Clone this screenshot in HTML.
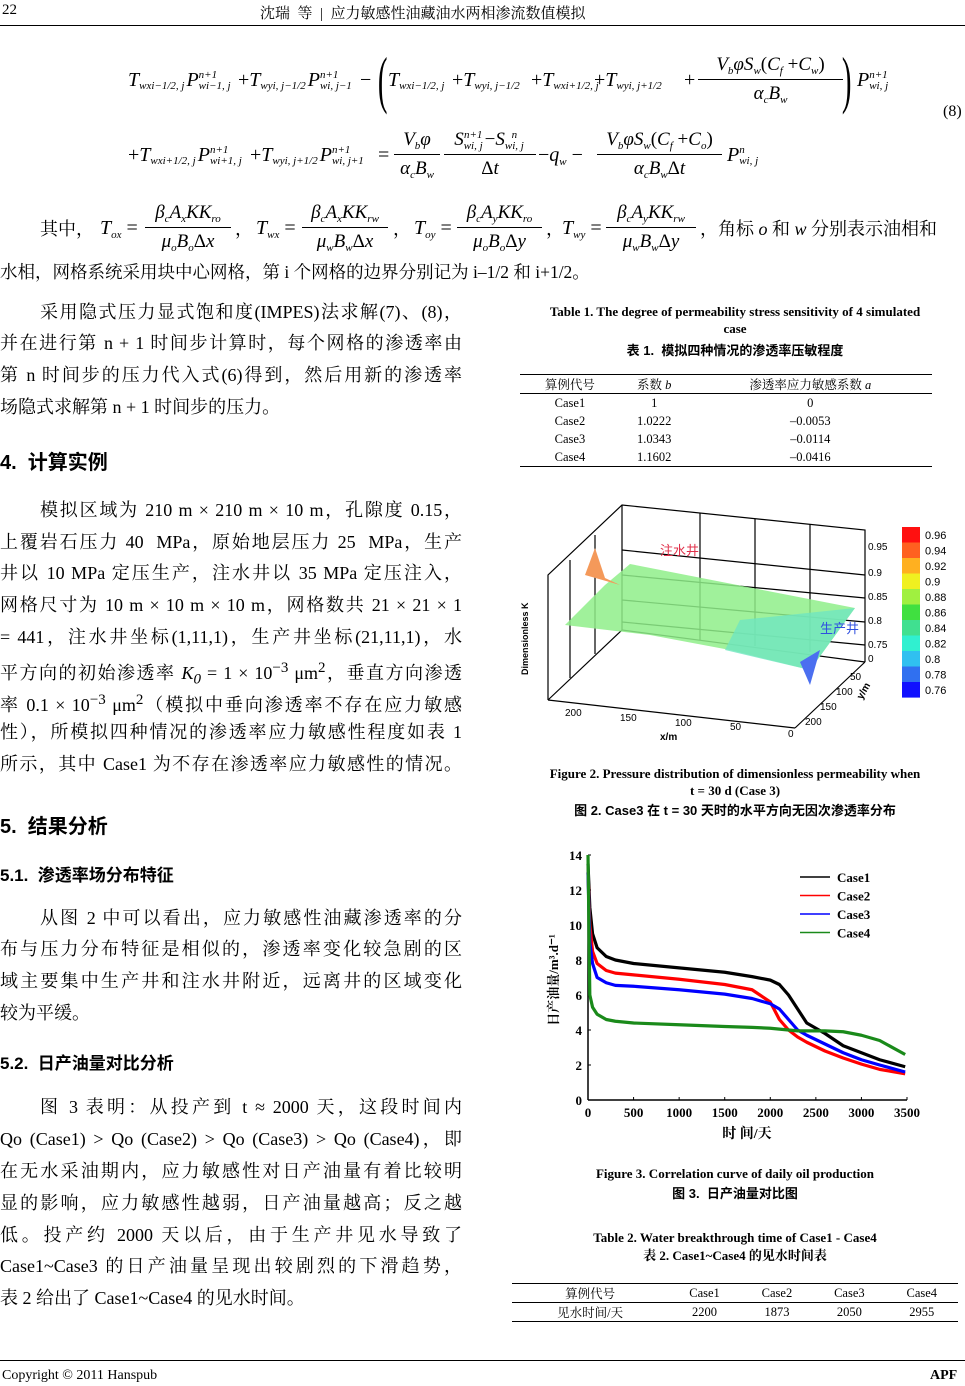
<!DOCTYPE html>
<html><head><meta charset="utf-8">
<style>
body{margin:0;width:965px;height:1386px;position:relative;background:#fff;font-family:"Liberation Serif","Noto Serif CJK SC",serif;color:#000;overflow:hidden}
.a{position:absolute;white-space:nowrap}
.L{position:absolute;left:0;width:462px;font-size:18px;line-height:22px;height:22px;text-align:justify;text-align-last:justify;overflow:visible}
.L.f{left:40px;width:422px}
.L.e{text-align-last:left}
.h{font-family:"Liberation Sans","Noto Sans CJK SC",sans-serif;font-weight:bold}
i{font-style:italic}
.cap{position:absolute;font-size:13px;font-weight:bold;text-align:center;line-height:17px}
table{border-collapse:collapse;font-size:12.5px}
td{text-align:center;padding:0;height:18px}
.t{position:absolute;line-height:30px;height:30px;font-style:italic;font-size:20px;white-space:nowrap}
.ss{display:inline-flex;flex-direction:column;font-size:11px;line-height:11px;margin-right:2px;vertical-align:middle}
.fr{position:absolute;font-style:italic;font-size:19px;white-space:nowrap;text-align:center}
.fr .n{line-height:24px;height:24px}
.fr .b{height:1px;background:#000;margin:2px 0}
.fr .d{line-height:24px;height:24px}
.fr sub,.t sub{font-size:11px;vertical-align:-4px;line-height:0}
.np{font-style:normal}
</style></head><body>
<div class="a" style="left:2px;top:2px;font-size:15px">22</div>
<div class="a" style="left:260px;top:2px;font-size:15px">沈瑞&nbsp; 等&nbsp; |&nbsp; 应力敏感性油藏油水两相渗流数值模拟</div>
<div class="a" style="left:0;top:25px;width:965px;height:1px;background:#000"></div>

<div>
<div class="t" style="left:128px;top:65px">T<span class="ss"><span>&nbsp;</span><span>wxi−1/2, j</span></span>P<span class="ss"><span>n+1</span><span>wi−1, j</span></span></div>
<div class="t" style="left:238px;top:65px"><span class="np">+</span>T<span class="ss"><span>&nbsp;</span><span>wyi, j−1/2</span></span>P<span class="ss"><span>n+1</span><span>wi, j−1</span></span></div>
<div class="t" style="left:360px;top:65px"><span class="np">−</span></div>
<div class="a" style="left:372px;top:40px;font-size:64px;line-height:80px;transform:scaleX(0.45)">(</div>
<div class="t" style="left:388px;top:65px">T<span class="ss"><span>&nbsp;</span><span>wxi−1/2, j</span></span></div>
<div class="t" style="left:452px;top:65px"><span class="np">+</span>T<span class="ss"><span>&nbsp;</span><span>wyi, j−1/2</span></span></div>
<div class="t" style="left:531px;top:65px"><span class="np">+</span>T<span class="ss"><span>&nbsp;</span><span>wxi+1/2, j</span></span></div>
<div class="t" style="left:594px;top:65px"><span class="np">+</span>T<span class="ss"><span>&nbsp;</span><span>wyi, j+1/2</span></span></div>
<div class="t" style="left:684px;top:65px"><span class="np">+</span></div>
<div class="fr" style="left:698px;top:53px;width:145px"><div class="n">V<sub>b</sub>φS<sub>w</sub><span class="np">(</span>C<sub>f</sub><span class="np">&nbsp;+</span>C<sub>w</sub><span class="np">)</span></div><div class="b"></div><div class="d">α<sub>c</sub>B<sub>w</sub></div></div>
<div class="a" style="left:836px;top:40px;font-size:64px;line-height:80px;transform:scaleX(0.45)">)</div>
<div class="t" style="left:857px;top:65px">P<span class="ss"><span>n+1</span><span>wi, j</span></span></div>

<div class="t" style="left:128px;top:140px"><span class="np">+</span>T<span class="ss"><span>&nbsp;</span><span>wxi+1/2, j</span></span>P<span class="ss"><span>n+1</span><span>wi+1, j</span></span></div>
<div class="t" style="left:250px;top:140px"><span class="np">+</span>T<span class="ss"><span>&nbsp;</span><span>wyi, j+1/2</span></span>P<span class="ss"><span>n+1</span><span>wi, j+1</span></span></div>
<div class="t" style="left:378px;top:140px"><span class="np">=</span></div>
<div class="fr" style="left:394px;top:128px;width:46px"><div class="n">V<sub>b</sub>φ</div><div class="b"></div><div class="d">α<sub>c</sub>B<sub>w</sub></div></div>
<div class="fr" style="left:444px;top:128px;width:92px"><div class="n">S<span class="ss"><span>n+1</span><span>wi, j</span></span><span class="np">−</span>S<span class="ss"><span>n</span><span>wi, j</span></span></div><div class="b"></div><div class="d"><span class="np">Δ</span>t</div></div>
<div class="t" style="left:538px;top:140px"><span class="np">−</span>q<sub>w</sub>&nbsp;<span class="np">−</span></div>
<div class="fr" style="left:597px;top:128px;width:125px"><div class="n">V<sub>b</sub>φS<sub>w</sub><span class="np">(</span>C<sub>f</sub><span class="np">&nbsp;+</span>C<sub>o</sub><span class="np">)</span></div><div class="b"></div><div class="d">α<sub>c</sub>B<sub>w</sub><span class="np">Δ</span>t</div></div>
<div class="t" style="left:727px;top:140px">P<span class="ss"><span>n</span><span>wi, j</span></span></div>
</div>
<div class="a" style="left:943px;top:103px;font-size:16px">(8)</div>

<div>
<div class="a" style="left:40px;top:215px;font-size:18px">其中，</div>
<div class="t" style="left:100px;top:213px">T<sub>ox</sub> <span class="np">=</span></div>
<div class="fr" style="left:145px;top:201px;width:86px"><div class="n">β<sub>c</sub>A<sub>x</sub>KK<sub>ro</sub></div><div class="b"></div><div class="d">μ<sub>o</sub>B<sub>o</sub><span class="np">Δ</span>x</div></div>
<div class="a" style="left:235px;top:215px;font-size:18px">，</div>
<div class="t" style="left:256px;top:213px">T<sub>wx</sub> <span class="np">=</span></div>
<div class="fr" style="left:302px;top:201px;width:86px"><div class="n">β<sub>c</sub>A<sub>x</sub>KK<sub>rw</sub></div><div class="b"></div><div class="d">μ<sub>w</sub>B<sub>w</sub><span class="np">Δ</span>x</div></div>
<div class="a" style="left:393px;top:215px;font-size:18px">，</div>
<div class="t" style="left:414px;top:213px">T<sub>oy</sub> <span class="np">=</span></div>
<div class="fr" style="left:457px;top:201px;width:85px"><div class="n">β<sub>c</sub>A<sub>y</sub>KK<sub>ro</sub></div><div class="b"></div><div class="d">μ<sub>o</sub>B<sub>o</sub><span class="np">Δ</span>y</div></div>
<div class="a" style="left:546px;top:215px;font-size:18px">，</div>
<div class="t" style="left:562px;top:213px">T<sub>wy</sub> <span class="np">=</span></div>
<div class="fr" style="left:606px;top:201px;width:90px"><div class="n">β<sub>c</sub>A<sub>y</sub>KK<sub>rw</sub></div><div class="b"></div><div class="d">μ<sub>w</sub>B<sub>w</sub><span class="np">Δ</span>y</div></div>
<div class="a" style="left:700px;top:215px;font-size:18px">，角标 <i>o</i> 和 <i>w</i> 分别表示油相和</div>
</div>
<div class="a" style="left:0;top:259px;font-size:17.5px">水相，网格系统采用块中心网格，第 i 个网格的边界分别记为 i–1/2 和 i+1/2。</div>

<div>
<div class="L f" style="top:301px">采用隐式压力显式饱和度(IMPES)法求解(7)、(8)，</div>
<div class="L" style="top:332px">并在进行第 n + 1 时间步计算时，每个网格的渗透率由</div>
<div class="L" style="top:364px">第 n 时间步的压力代入式(6)得到，然后用新的渗透率</div>
<div class="L e" style="top:396px">场隐式求解第 n + 1 时间步的压力。</div>
</div>

<div class="a h" style="left:0;top:446px;font-size:20px">4.&nbsp; 计算实例</div>
<div>
<div class="L f" style="top:499px">模拟区域为 210 m × 210 m × 10 m，孔隙度 0.15，</div>
<div class="L" style="top:531px">上覆岩石压力 40&nbsp; MPa，原始地层压力 25&nbsp; MPa，生产</div>
<div class="L" style="top:562px">井以 10 MPa 定压生产，注水井以 35 MPa 定压注入，</div>
<div class="L" style="top:594px">网格尺寸为 10 m × 10 m × 10 m，网格数共 21 × 21 × 1</div>
<div class="L" style="top:626px">= 441，注水井坐标(1,11,1)，生产井坐标(21,11,1)，水</div>
<div class="L" style="top:657px">平方向的初始渗透率 <i>K<sub>0</sub></i> = 1 × 10<sup>−3</sup> μm<sup>2</sup>，垂直方向渗透</div>
<div class="L" style="top:689px">率 0.1 × 10<sup>−3</sup> μm<sup>2</sup>（模拟中垂向渗透率不存在应力敏感</div>
<div class="L" style="top:721px">性），所模拟四种情况的渗透率应力敏感性程度如表 1</div>
<div class="L" style="top:753px">所示，其中 Case1 为不存在渗透率应力敏感性的情况。</div>
</div>

<div class="a h" style="left:0;top:810px;font-size:20px">5.&nbsp; 结果分析</div>
<div class="a h" style="left:0;top:861px;font-size:17px">5.1.&nbsp; 渗透率场分布特征</div>
<div>
<div class="L f" style="top:907px">从图 2 中可以看出，应力敏感性油藏渗透率的分</div>
<div class="L" style="top:938px">布与压力分布特征是相似的，渗透率变化较急剧的区</div>
<div class="L" style="top:970px">域主要集中生产井和注水井附近，远离井的区域变化</div>
<div class="L e" style="top:1002px">较为平缓。</div>
</div>
<div class="a h" style="left:0;top:1049px;font-size:17px">5.2.&nbsp; 日产油量对比分析</div>
<div>
<div class="L f" style="top:1096px">图 3 表明：从投产到 t ≈ 2000 天，这段时间内</div>
<div class="L" style="top:1128px">Qo (Case1) &gt; Qo (Case2) &gt; Qo (Case3) &gt; Qo (Case4)，即</div>
<div class="L" style="top:1160px">在无水采油期内，应力敏感性对日产油量有着比较明</div>
<div class="L" style="top:1192px">显的影响，应力敏感性越弱，日产油量越高；反之越</div>
<div class="L" style="top:1224px">低。投产约 2000 天以后，由于生产井见水导致了</div>
<div class="L" style="top:1255px">Case1~Case3 的日产油量呈现出较剧烈的下滑趋势，</div>
<div class="L e" style="top:1287px">表 2 给出了 Case1~Case4 的见水时间。</div>
</div>

<div class="cap" style="left:505px;top:303px;width:460px">Table 1. The degree of permeability stress sensitivity of 4 simulated<br>case</div>
<div class="cap" style="left:505px;top:342px;width:460px;font-family:'Liberation Sans','Noto Sans CJK SC',sans-serif">表 1.&nbsp; 模拟四种情况的渗透率压敏程度</div>
<table class="a" style="left:520px;top:374px;width:412px;border-top:1px solid #000;border-bottom:1px solid #000">
<tr style="border-bottom:1px solid #000"><td>算例代号</td><td>系数 <i>b</i></td><td>渗透率应力敏感系数 <i>a</i></td></tr>
<tr><td>Case1</td><td>1</td><td>0</td></tr>
<tr><td>Case2</td><td>1.0222</td><td>–0.0053</td></tr>
<tr><td>Case3</td><td>1.0343</td><td>–0.0114</td></tr>
<tr><td>Case4</td><td>1.1602</td><td>–0.0416</td></tr>
</table>

<svg class="a" style="left:510px;top:500px" width="455" height="250" font-family="Liberation Sans,Noto Sans CJK SC,sans-serif">
<g stroke="#000" stroke-width="1.2" fill="none">
<polyline points="38,200 38,75 112,5 355,30 355,162"/>
<line x1="112" y1="5" x2="112" y2="130"/><line x1="38" y1="200" x2="112" y2="130"/><line x1="112" y1="130" x2="355" y2="162"/>
<line x1="38" y1="200" x2="285" y2="228"/><line x1="285" y1="228" x2="355" y2="162"/>
<line x1="112" y1="50" x2="355" y2="75"/><line x1="112" y1="75" x2="355" y2="98"/><line x1="112" y1="100" x2="355" y2="122"/><line x1="112" y1="122" x2="355" y2="145"/>
<line x1="190" y1="13" x2="190" y2="140"/><line x1="245" y1="19" x2="245" y2="146"/><line x1="300" y1="24" x2="300" y2="152"/>
<line x1="60" y1="60" x2="60" y2="178"/><line x1="85" y1="35" x2="85" y2="154"/>
</g>
<polygon points="55,125 95,85 120,64 345,108 300,170 220,150 140,135" fill="#8fef8a" opacity="0.85"/>
<polygon points="215,150 230,120 345,108 300,170" fill="#6fe6c0" opacity="0.8"/>
<polygon points="75,75 85,48 95,78 110,85" fill="#f4995a"/>
<polygon points="290,162 300,185 310,150" fill="#4b6ff0"/>
<text x="150" y="55" fill="#e0304a" font-size="13">注水井</text>
<text x="310" y="133" fill="#3050e0" font-size="13">生产井</text>
<g font-size="10"><text x="358" y="50">0.95</text><text x="358" y="76">0.9</text><text x="358" y="100">0.85</text><text x="358" y="124">0.8</text><text x="358" y="148">0.75</text><text x="358" y="162">0</text>
<text x="340" y="180">50</text><text x="326" y="195">100</text><text x="310" y="210">150</text><text x="295" y="225">200</text>
<text x="55" y="216">200</text><text x="110" y="221">150</text><text x="165" y="226">100</text><text x="220" y="230">50</text><text x="278" y="237">0</text>
<text x="150" y="240" font-weight="bold">x/m</text><text x="352" y="200" font-weight="bold" transform="rotate(-60 352 200)">y/m</text>
<text x="18" y="175" font-weight="bold" font-size="9" transform="rotate(-90 18 175)">Dimensionless K</text></g>
<g id="cbar"></g>
</svg>
<div class="cap" style="left:505px;top:765px;width:460px">Figure 2. Pressure distribution of dimensionless permeability when<br>t = 30 d (Case 3)</div>
<div class="cap" style="left:505px;top:802px;width:460px;font-family:'Liberation Sans','Noto Sans CJK SC',sans-serif">图 2. Case3 在 t = 30 天时的水平方向无因次渗透率分布</div>

<svg class="a" style="left:540px;top:840px" width="390" height="310" font-family="Liberation Serif,Noto Serif CJK SC,serif">
<g id="plot"></g>
</svg>
<div class="cap" style="left:505px;top:1165px;width:460px">Figure 3. Correlation curve of daily oil production</div>
<div class="cap" style="left:505px;top:1185px;width:460px;font-family:'Liberation Sans','Noto Sans CJK SC',sans-serif">图 3.&nbsp; 日产油量对比图</div>

<div class="cap" style="left:505px;top:1229px;width:460px">Table 2. Water breakthrough time of Case1 - Case4</div>
<div class="cap" style="left:505px;top:1247px;width:460px">表 2. Case1~Case4 的见水时间表</div>
<table class="a" style="left:512px;top:1283px;width:446px;border-top:1px solid #000;border-bottom:1px solid #000">
<tr style="border-bottom:1px solid #000"><td>算例代号</td><td>Case1</td><td>Case2</td><td>Case3</td><td>Case4</td></tr>
<tr><td>见水时间/天</td><td>2200</td><td>1873</td><td>2050</td><td>2955</td></tr>
</table>

<div class="a" style="left:0;top:1360px;width:965px;height:1px;background:#000"></div>
<div class="a" style="left:2px;top:1368px;font-size:14px">Copyright © 2011 Hanspub</div>
<div class="a" style="left:930px;top:1368px;font-size:14px;font-weight:bold">APF</div>

<script>
const NS='http://www.w3.org/2000/svg';
const cbarLevels=['0.96','0.94','0.92','0.9','0.88','0.86','0.84','0.82','0.8','0.78','0.76'];
const cbarColors=['#ff1010','#ff6020','#ffb020','#f0f020','#a0f040','#40e040','#40e090','#30f0d0','#30c0f0','#3070f0','#1010ff'];
const cb=document.getElementById('cbar');
cbarLevels.forEach((l,i)=>{
 const r=document.createElementNS(NS,'rect');
 r.setAttribute('x',392);r.setAttribute('y',27+i*15.5);r.setAttribute('width',18);r.setAttribute('height',15.6);r.setAttribute('fill',cbarColors[i]);
 
 
 cb.appendChild(r);
 const t=document.createElementNS(NS,'text');
 t.setAttribute('x',415);t.setAttribute('y',39+i*15.5);t.setAttribute('font-size','11');t.textContent=l;
 
 
 cb.appendChild(t);
});

const times=[0,20,50,100,200,300,500,1000,1500,1800,2000,2100,2200,2300,2400,2600,2800,3000,3200,3480];
const case1=[13.5,11,9.5,8.7,8.2,8.0,7.8,7.55,7.3,7.05,6.85,6.6,6.0,5.2,4.4,3.8,3.1,2.7,2.3,1.9];
const case2=[13,10,8.5,7.8,7.4,7.25,7.15,6.9,6.6,6.3,5.6,4.6,4.0,3.6,3.3,2.8,2.4,2.05,1.75,1.5];
const case3=[13,9,7.8,7.0,6.7,6.55,6.5,6.3,6.05,5.8,5.5,5.2,4.6,4.0,3.7,3.2,2.7,2.3,2.0,1.6];
const case4=[14,6,5.3,4.9,4.6,4.5,4.4,4.3,4.2,4.15,4.1,4.05,4.0,3.95,3.95,3.95,3.9,3.7,3.4,2.6];
const seriesNames=['Case1','Case2','Case3','Case4'];
const seriesColors=['#000','#f00','#00f','#1a8a1a'];
const xTicks=[0,500,1000,1500,2000,2500,3000,3500];
const yTicks=[0,2,4,6,8,10,12,14];

const X0=48,X1=367,Y0=260,Y1=15;
const xs=v=>X0+(v/3500)*(X1-X0), ys=v=>Y0-(v/14)*(Y0-Y1);
const g=document.getElementById('plot');
function el(tag,attrs,name,text){const e=document.createElementNS(NS,tag);for(const k in attrs)e.setAttribute(k,attrs[k]);
 
 
 if(text!==undefined)e.textContent=text;g.appendChild(e);return e;}
el('line',{x1:X0,y1:Y0,x2:X1,y2:Y0,stroke:'#000','stroke-width':1.5},'x-axis');
el('line',{x1:X0,y1:Y0,x2:X0,y2:Y1,stroke:'#000','stroke-width':1.5},'y-axis');
xTicks.forEach(v=>{el('line',{x1:xs(v),y1:Y0,x2:xs(v),y2:Y0-3,stroke:'#000'},'x-tick');
 el('text',{x:xs(v),y:Y0+17,'font-size':13,'font-weight':'bold','text-anchor':'middle'},'x-tick-label',v);});
yTicks.forEach(v=>{el('line',{x1:X0,y1:ys(v),x2:X0+3,y2:ys(v),stroke:'#000'},'y-tick');
 el('text',{x:X0-6,y:ys(v)+5,'font-size':13,'font-weight':'bold','text-anchor':'end'},'y-tick-label',v);});
el('text',{x:207,y:298,'font-size':14,'font-weight':'bold','text-anchor':'middle'},'x-axis-title','时 间/天');
el('text',{x:18,y:140,'font-size':13,'font-weight':'bold','text-anchor':'middle',transform:'rotate(-90 18 140)'},'y-axis-title','日产油量/m³.d⁻¹');
[case1,case2,case3,case4].forEach((s,i)=>{
 el('polyline',{points:s.map((v,j)=>xs(times[j])+','+ys(v)).join(' '),fill:'none',stroke:seriesColors[i],'stroke-width':3.2,'stroke-linejoin':'round'},'series-'+seriesNames[i].toLowerCase());
 const ly=37+i*18.5;
 el('line',{x1:260,y1:ly,x2:290,y2:ly,stroke:seriesColors[i],'stroke-width':1.5},'legend-line');
 el('text',{x:297,y:ly+5,'font-size':13,'font-weight':'bold'},'legend-entry',seriesNames[i]);
});
</script>
</body></html>
